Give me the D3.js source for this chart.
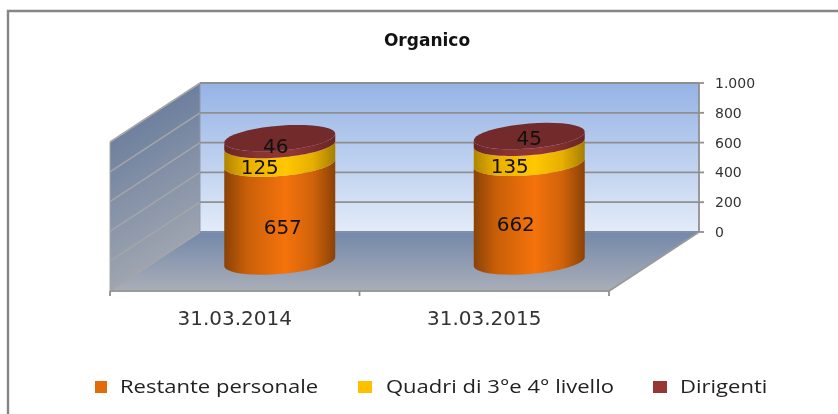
<!DOCTYPE html>
<html><head><meta charset="utf-8">
<script src="https://cdn.jsdelivr.net/npm/d3@7"></script>
<style>html,body{margin:0;padding:0;background:#fff}svg{display:block;filter:blur(0.45px)}</style></head>
<body><div id="chart"></div>
<script>
const title = "Organico";
const categories = ["31.03.2014", "31.03.2015"];
const seriesNames = ["Restante personale", "Quadri di 3°e 4° livello", "Dirigenti"];
const restante = [657, 662];
const quadri = [125, 135];
const dirigenti = [46, 45];
const ticks = [0, 200, 400, 600, 800, 1000];
const tickLabels = ["0", "200", "400", "600", "800", "1.000"];
const colors = ["#e36c0a", "#ffc000", "#953735"];

const W = 838, H = 414;
const svg = d3.select("#chart").append("svg").attr("width", W).attr("height", H);
const defs = svg.append("defs");
const lg = (id, stops, x2, y2) => {
  const g = defs.append("linearGradient").attr("id", id)
    .attr("x1", 0).attr("y1", 0).attr("x2", x2).attr("y2", y2);
  stops.forEach(s => g.append("stop").attr("offset", s[0]).attr("stop-color", s[1]));
};
lg("wall", [[0, "#95b3e5"], [1, "#e3ebf8"]], 0, 1);
lg("side", [[0, "#5c7398"], [1, "#a3a8b2"]], 0.25, 1);
lg("floor", [[0, "#7488aa"], [1, "#a9aeb8"]], 0, 1);
lg("c0", [[0, "#8a4206"], [0.2, "#c85f08"], [0.55, "#f5730c"], [0.8, "#d0620a"], [1, "#8a4206"]], 1, 0);
lg("c1", [[0, "#b08400"], [0.2, "#eab000"], [0.55, "#ffc800"], [0.8, "#e6ae00"], [1, "#a87e00"]], 1, 0);
lg("c2", [[0, "#6a2523"], [0.3, "#8a3230"], [0.6, "#933634"], [1, "#6a2523"]], 1, 0);

// chart frame: only the top and left edges fall inside the crop
svg.append("path").attr("d", `M8,${H}V11H${W}`)
  .attr("fill", "none").attr("stroke", "#868686").attr("stroke-width", 2.4);

// 3D box
const depth = { x: 90, y: -59 };
const x = d3.scaleBand().domain(categories).range([110, 609]);
const y = d3.scaleLinear().domain([0, 1000]).range([291, 142]);
const bx = (v) => v + depth.x, by = (v) => v + depth.y;

const xL = 110, xR = 609, y0 = y(0), yT = y(1000);
svg.append("path").attr("fill", "url(#wall)")
  .attr("d", `M${bx(xL)},${by(yT)}H${bx(xR)}V${by(y0)}H${bx(xL)}Z`);
svg.append("path").attr("fill", "url(#side)")
  .attr("d", `M${xL},${yT}L${bx(xL)},${by(yT)}V${by(y0)}L${xL},${y0}Z`);
svg.append("path").attr("fill", "url(#floor)")
  .attr("d", `M${xL},${y0}L${bx(xL)},${by(y0)}H${bx(xR)}L${xR},${y0}Z`);

// grid
const grid = svg.append("g").attr("fill", "none").attr("stroke", "#8f8f8f").attr("stroke-width", 1.8);
ticks.forEach(t => {
  const p = y(t);
  grid.append("path").attr("d", `M${bx(xL)},${by(p)}H${bx(xR)}`)
    .attr("stroke", t === 0 ? "#7f8fa8" : "#8f8f8f");
  grid.append("path").attr("d", `M${xL},${p}L${bx(xL)},${by(p)}`)
    .attr("stroke", t === 1000 ? "#a8a8a8" : "#a3a6ab").attr("stroke-width", 1.5);
  grid.append("path").attr("d", `M${bx(xR)},${by(p)}h5`);
});
grid.append("path").attr("d", `M${bx(xL)},${by(yT)}V${by(y0)}`).attr("stroke", "#8e98a8").attr("stroke-width", 1);
grid.append("path").attr("d", `M${bx(xR)},${by(yT)}V${by(y0)}`);
grid.append("path").attr("d", `M${xL},${yT}V${y0}`).attr("stroke", "#a8a8a8").attr("stroke-width", 1);
grid.append("path").attr("d", `M${xL},${y0}H${xR}L${bx(xR)},${by(y0)}`).attr("stroke", "#9a9a9a");
[xL, x(categories[1]), xR].forEach(v => grid.append("path").attr("d", `M${v},${y0}v5`));

// y axis labels
svg.append("g").selectAll("text").data(ticks).join("text")
  .attr("x", bx(xR) + 16).attr("y", d => by(y(d)) + 5)
  .attr("font-family", "DejaVu Sans").attr("font-size", 14).attr("fill", "#333")
  .text((d, i) => tickLabels[i]);

// x labels
svg.append("g").selectAll("text").data(categories).join("text")
  .attr("x", d => x(d) + x.bandwidth() / 2).attr("y", 325)
  .attr("text-anchor", "middle").attr("font-family", "DejaVu Sans").attr("font-size", 20).attr("fill", "#333")
  .text(d => d);

// cylinders
const rx = 55.5, ry = 12.5, tilt = -4.5;
const series = [restante, quadri, dirigenti];
const labelNudge = [[[3, 14.5], [-20, 12.5], [-4, 4.5]], [[-13.5, 12], [-19.5, 13], [0, -1.5]]];
const ptOn = (cx, cy, a) => {
  const t = tilt * Math.PI / 180;
  const ex = rx * Math.cos(a), ey = ry * Math.sin(a);
  return [cx + ex, cy + ey + ex * Math.tan(t)];
};
const ell = (cx, cy, a0, a1) => d3.range(0, 41).map(i => ptOn(cx, cy, a0 + (a1 - a0) * i / 40));
const line = d3.line();
categories.forEach((c, ci) => {
  const cx = x(c) + x.bandwidth() / 2 + depth.x / 2;
  const py = v => y(v) + depth.y / 2;
  let acc = 0;
  const g = svg.append("g");
  series.forEach((s, si) => {
    const v0 = acc, v1 = acc + s[ci];
    g.append("path").attr("fill", `url(#c${si})`)
      .attr("d", line(ell(cx, py(v0), 0, Math.PI).concat(ell(cx, py(v1), Math.PI, 0))) + "Z");
    acc = v1;
  });
  g.append("path").attr("fill", "#722b2a")
    .attr("d", line(ell(cx, py(acc), 0, 2 * Math.PI)) + "Z");
  acc = 0;
  series.forEach((s, si) => {
    const mid = acc + s[ci] / 2;
    acc += s[ci];
    const [dx, dy] = labelNudge[ci][si];
    g.append("text").attr("x", cx + dx).attr("y", py(mid) + dy + 7)
      .attr("text-anchor", "middle").attr("font-family", "DejaVu Sans").attr("font-size", 20).attr("fill", "#111")
      .text(s[ci]);
  });
});

// title
svg.append("text").attr("x", 427).attr("y", 46).attr("text-anchor", "middle")
  .attr("font-family", "DejaVu Sans").attr("font-weight", "bold").attr("font-size", 17).attr("fill", "#111").text(title);

// legend
const legX = [95, 358, 653], txtX = [120, 386, 680], stretch = 1.19;
seriesNames.forEach((n, i) => {
  svg.append("rect").attr("x", legX[i]).attr("y", 381).attr("width", i ? 14 : 12).attr("height", 12).attr("fill", colors[i]);
  svg.append("text").attr("transform", `translate(${txtX[i]},393) scale(${stretch},1)`)
    .attr("font-family", "Open Sans").attr("font-size", 18.5).attr("fill", "#222").text(n);
});
</script></body></html>
